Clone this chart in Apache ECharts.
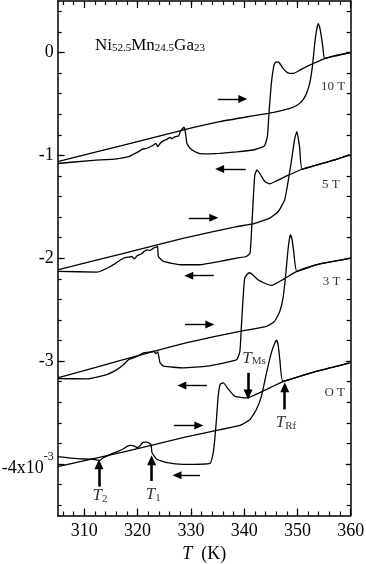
<!DOCTYPE html>
<html><head><meta charset="utf-8">
<script src="https://cdn.jsdelivr.net/npm/echarts@6/dist/echarts.min.js"></script>
<style>html,body{margin:0;padding:0;background:#fff}#c{width:366px;height:564px}</style>
</head><body><div id="c"></div>
<script>
// ---- ticks ----
const xMajorTicks = [310, 320, 330, 340, 350, 360];
const yMajorTicks = [-4, -3, -2, -1, 0];
const xMinorTicks = []; for (let t = 306; t <= 358; t += 2) xMinorTicks.push(t);
const yMinorTicks = []; for (let k = -22; k <= 2; k++) yMinorTicks.push(k / 5);

// ---- data: [T (K), strain x1e-3] ----
const heat10T = [[305,-1.061],[317,-0.905],[328.5,-0.754],[335.4,-0.673],[341,-0.622],[344.5,-0.592],[346.8,-0.567],[348.6,-0.543],[349.7,-0.52],[350.4,-0.495],[351.1,-0.455],[351.7,-0.398],[352.3,-0.301],[352.8,-0.140],[353.25,0.087],[353.6,0.22],[353.9,0.281],[354.2,0.24],[354.5,0.151],[354.8,0.04],[355.1,-0.058],[357.5,-0.03],[359.8,-0.004]];
const cool10T = [[359.8,-0.004],[357,-0.03],[355.1,-0.06],[352,-0.13],[350.5,-0.17],[349.2,-0.204],[348.2,-0.198],[347.3,-0.155],[346.6,-0.10],[346.2,-0.091],[345.8,-0.10],[345.5,-0.15],[345.1,-0.301],[344.7,-0.560],[344.4,-0.80],[344.2,-0.851],[343.9,-0.90],[343.6,-0.916],[341.7,-0.948],[338.6,-0.967],[335.4,-0.98],[332.4,-0.986],[331.1,-0.974],[329.86,-0.931],[329.25,-0.883],[329.0,-0.786],[328.74,-0.727],[328.5,-0.737],[328.0,-0.770],[327.7,-0.812],[327.05,-0.819],[326.4,-0.839],[326.1,-0.825],[325.5,-0.844],[324.88,-0.857],[324.24,-0.883],[323.8,-0.916],[323.43,-0.883],[323.0,-0.899],[321.75,-0.931],[320.8,-0.941],[320.19,-0.964],[319.25,-0.989],[318.3,-1.013],[316.1,-1.034],[311.1,-1.051],[305,-1.079]];

const heat5T = [[305,-2.112],[317,-1.958],[328.5,-1.806],[338.6,-1.692],[341.7,-1.666],[344.8,-1.610],[346.4,-1.546],[347.6,-1.433],[348.2,-1.271],[348.9,-1.045],[349.5,-0.834],[349.9,-0.770],[350.4,-0.916],[350.9,-1.135],[354.2,-1.085],[357.3,-1.04],[359.8,-0.996]];
const cool5T = [[359.8,-0.996],[357.3,-1.04],[354.2,-1.085],[350.9,-1.135],[348,-1.2],[346,-1.25],[344.8,-1.277],[343.9,-1.255],[342.9,-1.174],[342.4,-1.142],[342.0,-1.190],[341.7,-1.433],[341.4,-1.724],[341.1,-1.950],[340.4,-1.983],[338.6,-1.998],[335.4,-2.031],[331.7,-2.063],[328.0,-2.063],[324.9,-2.031],[323.9,-1.983],[323.75,-1.886],[323.5,-1.891],[323.0,-1.901],[322.3,-1.925],[321.75,-1.918],[321.2,-1.934],[320.8,-1.956],[319.9,-1.976],[319.4,-2.005],[318.9,-1.983],[318.3,-1.988],[317.4,-1.998],[314.9,-2.080],[312.4,-2.134],[305,-2.128]];

const heat3T = [[305,-3.162],[317,-2.99],[328.5,-2.829],[339.2,-2.710],[344.2,-2.662],[345.7,-2.613],[346.7,-2.516],[347.3,-2.386],[347.8,-2.160],[348.2,-1.934],[348.5,-1.81],[348.7,-1.772],[349.0,-1.82],[349.3,-1.934],[349.9,-2.128],[353.6,-2.063],[356.7,-2.031],[360,-1.998]];
const cool3T = [[360,-1.998],[356.7,-2.031],[353.6,-2.063],[349.9,-2.128],[347.5,-2.2],[345.1,-2.264],[344.2,-2.250],[342.6,-2.209],[341.6,-2.16],[341.0,-2.141],[340.5,-2.16],[340.1,-2.192],[339.8,-2.386],[339.5,-2.645],[339.2,-2.904],[338.6,-2.985],[333.0,-3.049],[328.6,-3.065],[324.9,-3.049],[324.2,-3.016],[323.8,-2.910],[323.5,-2.927],[323.0,-2.904],[322.1,-2.913],[321.1,-2.919],[319.9,-2.953],[319.2,-2.969],[318.3,-2.985],[317.4,-3.033],[316.1,-3.082],[314.2,-3.130],[310.5,-3.172],[305,-3.170]];

const heat0T = [[305,-4.025],[317,-3.887],[328.5,-3.744],[334.2,-3.680],[339.2,-3.625],[341.1,-3.567],[342.3,-3.470],[343.25,-3.340],[344.2,-3.114],[345.1,-2.920],[345.7,-2.83],[346.1,-2.797],[346.4,-2.85],[346.7,-2.985],[347.3,-3.195],[352.9,-3.108],[356.7,-3.059],[359.8,-3.016]];
const cool0T = [[359.8,-3.016],[356.7,-3.059],[352.9,-3.108],[347.3,-3.2],[344,-3.28],[341.5,-3.34],[340.7,-3.356],[340.1,-3.356],[339,-3.35],[338.2,-3.340],[337,-3.27],[336.1,-3.211],[335.6,-3.22],[335.4,-3.243],[335.1,-3.35],[334.8,-3.566],[334.5,-3.75],[334.2,-3.889],[333.6,-3.993],[328.5,-4.003],[325.5,-3.986],[323.6,-3.954],[322.7,-3.889],[322.55,-3.819],[322.25,-3.799],[321.6,-3.787],[321.0,-3.79],[320.5,-3.819],[319.9,-3.841],[319.4,-3.825],[318.7,-3.819],[318.1,-3.825],[317.4,-3.851],[316.4,-3.874],[314.9,-3.906],[313.6,-3.938],[312.9,-3.964],[311.75,-3.954],[308.6,-3.948],[305,-3.928]];

// ---- annotations ----
const fieldLabels = [['10 T',356.7,-0.327],['5 T',356.25,-1.287],['3 T',356.4,-2.231],['O T',357.0,-3.302]];
const markerLabels = [['Ms',341.85,-2.975],['Rf',347.85,-3.598],['2',312.93,-4.310],['1',322.93,-4.297]];
// horizontal direction arrows: [fromT, toT, strain]
const dirArrows = [[335.06,339.75,-0.453],[340.3,335.4,-1.132],[329.6,334.3,-1.607],[334.3,329.6,-2.170],[328.9,333.55,-2.645],[333.0,328.3,-3.237],[326.8,331.5,-3.625],[331.7,327.4,-4.110]];
// vertical marker arrows: [T, fromStrain, toStrain]
const markerArrows = [[340.74,-3.114,-3.324],[347.62,-3.469,-3.253],[312.74,-4.219,-4.003],[322.63,-4.165,-3.964]];

const FONT = 'Liberation Serif';
const chart = echarts.init(document.getElementById('c'), null, {renderer:'canvas'});
const gridRect = {left:57.7, right:15.3, top:1, bottom:48.5, containLabel:false, outerBoundsMode:'none'};

function xAxisDef(grid, pos, ticks, len, showLine, showLabel, extra) {
  return Object.assign({
    type:'value', gridIndex:grid, min:305, max:360, position:pos,
    axisLine:{show:showLine, onZero:false, lineStyle:{color:'#000', width:1.5}},
    axisTick:{show:true, inside:true, length:len, customValues:ticks, lineStyle:{color:'#000', width:1.2}},
    axisLabel:{show:showLabel, customValues:ticks, color:'#000', fontFamily:FONT, fontSize:18, margin:7},
    splitLine:{show:false}
  }, extra||{});
}
function yAxisDef(grid, pos, ticks, len, showLine, showLabel, extra) {
  return Object.assign({
    type:'value', gridIndex:grid, min:-4.5, max:0.5, position:pos,
    axisLine:{show:showLine, onZero:false, lineStyle:{color:'#000', width:1.5}},
    axisTick:{show:true, inside:true, length:len, customValues:ticks, lineStyle:{color:'#000', width:1.2}},
    axisLabel:{show:showLabel, customValues:ticks, color:'#000', fontFamily:FONT, fontSize:18, margin:4,
      formatter:function(v){ return Math.abs(v+4)<1e-9 ? '{sp| }{m|-4x10}{sup|-3}' : String(Math.round(v)); },
      rich:{ m:{fontFamily:FONT, fontSize:18, lineHeight:18, verticalAlign:'bottom', color:'#000'},
             sup:{fontFamily:FONT, fontSize:12, lineHeight:15, verticalAlign:'top', color:'#000'},
             sp:{fontSize:1, lineHeight:27} } },
    splitLine:{show:false}
  }, extra||{});
}

const curveStyle = {color:'#000', width:1.3};
function curve(name, data, extra) {
  return Object.assign({type:'line', name:name, data:data, xAxisIndex:0, yAxisIndex:0, showSymbol:false, symbol:'none',
    smooth:0.15, lineStyle:curveStyle, silent:true, z:3}, extra||{});
}

const dirLines = dirArrows.map(a => [{coord:[a[0],a[2]]},{coord:[a[1],a[2]]}]);
const vertLines = markerArrows.map(a => [{coord:[a[0],a[1]]},{coord:[a[0],a[2]]}]);

const option = {
  animation:false,
  backgroundColor:'#fff',
  title:{
    text:'{m|Ni}{s|52.5}{m|Mn}{s|24.5}{m|Ga}{s|23}', left:95, top:37, padding:0,
    textStyle:{fontWeight:'normal', rich:{ m:{fontFamily:FONT, fontSize:17, fontWeight:'normal', lineHeight:17, verticalAlign:'top', color:'#000'},
                      s:{fontFamily:FONT, fontSize:11, fontWeight:'normal', lineHeight:9, verticalAlign:'bottom', color:'#000'} }}
  },
  grid:[Object.assign({}, gridRect), Object.assign({}, gridRect)],
  xAxis:[
    xAxisDef(0,'bottom',xMajorTicks,7,true,true,{
      name:'{i|T}  (K)', nameLocation:'middle', nameGap:29,
      nameTextStyle:{color:'#000', fontFamily:FONT, fontSize:18,
        rich:{i:{fontStyle:'italic', fontFamily:FONT, fontSize:18, color:'#000'}}}
    }),
    xAxisDef(0,'top',xMajorTicks,7,true,false),
    xAxisDef(1,'bottom',xMinorTicks,4,false,false),
    xAxisDef(1,'top',xMinorTicks,4,false,false)
  ],
  yAxis:[
    yAxisDef(0,'left',yMajorTicks,7,true,true,{
      name:'Linear Strain', nameLocation:'middle', nameGap:38, nameRotate:90,
      nameTextStyle:{color:'#000', fontFamily:FONT, fontSize:18}
    }),
    yAxisDef(0,'right',yMajorTicks,5,true,false),
    yAxisDef(1,'left',yMinorTicks,4,false,false),
    yAxisDef(1,'right',yMinorTicks,4,false,false)
  ],
  series:[
    curve('heat 10 T', heat10T),
    curve('cool 10 T', cool10T),
    curve('heat 5 T', heat5T),
    curve('cool 5 T', cool5T),
    curve('heat 3 T', heat3T),
    curve('cool 3 T', cool3T),
    curve('heat 0 T', heat0T, {
      markLine:{silent:true, symbol:['none','triangle'], symbolSize:[8,9], label:{show:false},
        lineStyle:{color:'#000', width:1.4, type:'solid'}, emphasis:{disabled:true}, data:dirLines}
    }),
    curve('cool 0 T', cool0T, {
      markLine:{silent:true, symbol:['none','triangle'], symbolSize:[9,10], label:{show:false},
        lineStyle:{color:'#000', width:2.6, type:'solid'}, emphasis:{disabled:true}, data:vertLines}
    }),
    {
      type:'scatter', name:'field labels', xAxisIndex:0, yAxisIndex:0, symbolSize:0, silent:true,
      data:fieldLabels.map(d => [d[1], d[2], d[0]]),
      label:{show:true, position:'inside', formatter:p => p.data[2], color:'#000', fontFamily:FONT, fontSize:13, align:'center', verticalAlign:'middle'}
    },
    {
      type:'scatter', name:'marker labels', xAxisIndex:0, yAxisIndex:0, symbolSize:0, silent:true,
      data:markerLabels.map(d => [d[1], d[2], d[0]]),
      label:{show:true, position:'inside', formatter:p => '{i|T}{s|' + p.data[2] + '}', align:'center', verticalAlign:'middle',
        rich:{ i:{fontStyle:'italic', fontFamily:FONT, fontSize:17, lineHeight:17, verticalAlign:'top', color:'#000'},
               s:{fontFamily:FONT, fontSize:11, lineHeight:6, verticalAlign:'bottom', color:'#000'} }}
    }
  ]
};
chart.setOption(option);
</script></body></html>
